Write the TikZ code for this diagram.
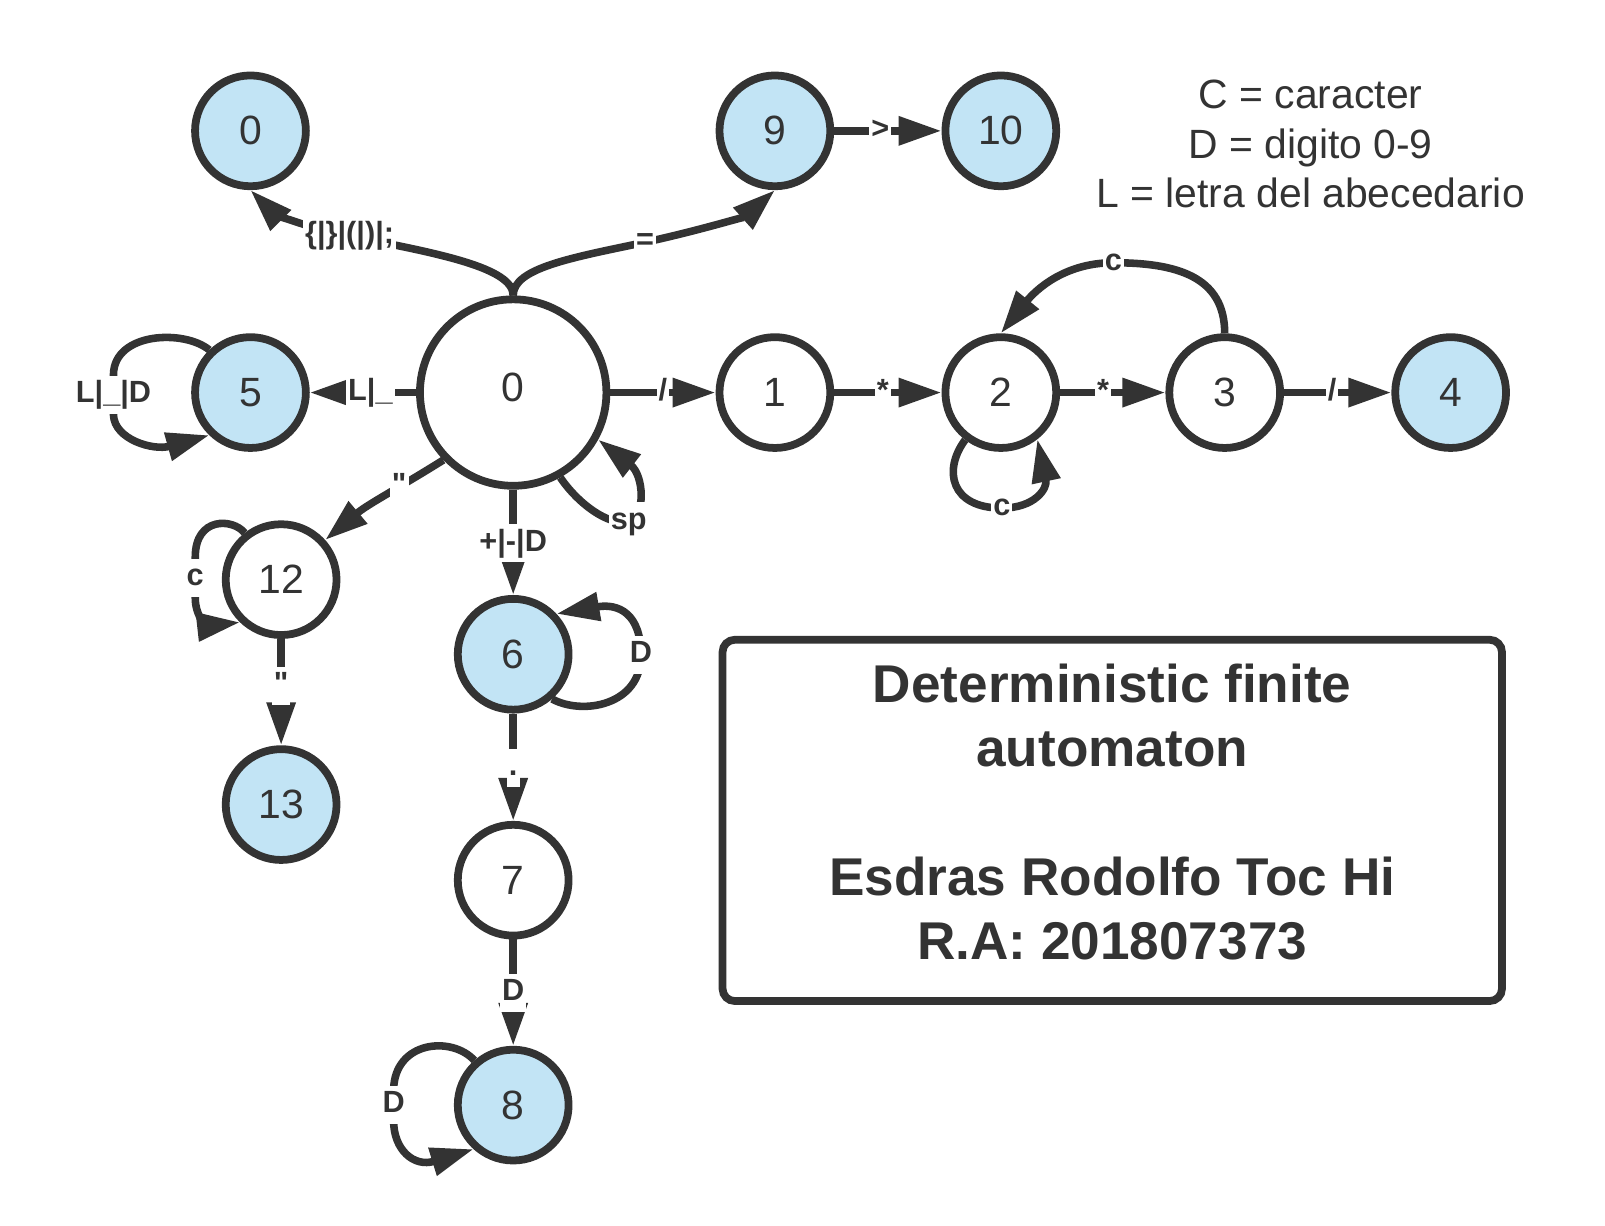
\documentclass[tikz,border=0pt]{standalone}
\usepackage{fontspec}
\setmainfont{Liberation Sans}
\font\qfont="Liberation Sans/B" at 15pt
\usetikzlibrary{arrows.meta}
\definecolor{dark}{HTML}{333333}
\definecolor{sfill}{HTML}{C2E4F5}
\newcommand{\dq}{{\qfont\char34}}
\begin{document}
\begin{tikzpicture}[x=0.5pt,y=0.5pt,
  state/.style={circle, draw=dark, line width=3.8pt, minimum size=54.2pt, inner sep=0pt, font=\fontsize{20}{24}\selectfont, text=dark},
  acc/.style={state, fill=sfill},
  big/.style={state, minimum size=91.2pt},
  conn/.style={draw=dark, line width=3.7pt, -{Triangle[length=21pt,width=13.5pt]}},
  lbl/.style={fill=white, text=dark, font=\fontsize{15}{18}\selectfont\bfseries, inner sep=1pt, text height=12pt, text depth=4.5pt},
]
\useasboundingbox (0,0) rectangle (1570,-1199);

% states
\node[big, text depth=5pt] (s0) at (502,-384) {0};
\node[acc] (n0t) at (245,-128) {0};
\node[acc] (n9) at (758,-128) {9};
\node[acc] (n10) at (979,-128) {10};
\node[acc] (n5) at (245,-384) {5};
\node[state] (n1) at (758,-384) {1};
\node[state] (n2) at (979,-384) {2};
\node[state] (n3) at (1198,-384) {3};
\node[acc] (n4) at (1419,-384) {4};
\node[state] (n12) at (275,-567) {12};
\node[acc] (n6) at (502,-640) {6};
\node[acc] (n13) at (275,-787) {13};
\node[state] (n7) at (502,-861) {7};
\node[acc] (n8) at (502,-1081) {8};

% curved edges to the top
\draw[conn] (s0.north) .. controls (502,-262) and (430,-248) .. (342,-231) node[lbl]{\{|\}|(|)|;} .. controls (295,-222) and (265,-206) .. (n0t.south);
\draw[conn] (s0.north) .. controls (502,-262) and (560,-252) .. (631,-237) node[lbl]{=} .. controls (690,-224) and (730,-211) .. (n9.south);

% straight edges
\draw[conn] (n9.east) -- node[lbl,pos=0.43]{>} (n10.west);
\draw[conn] (s0.west) -- node[lbl,pos=0.43]{L|\_} (n5.east);
\draw[conn] (s0.east) -- node[lbl,pos=0.5]{/} (n1.west);
\draw[conn] (n1.east) -- node[lbl,pos=0.453]{*} (n2.west);
\draw[conn] (n2.east) -- node[lbl,pos=0.408]{*} (n3.west);
\draw[conn] (n3.east) -- node[lbl,pos=0.448]{/} (n4.west);
\draw[conn] (s0.224) to[out=212,in=40] node[lbl,pos=0.35]{\dq} (n12.42);
\draw[conn] (s0.south) -- node[lbl,pos=0.51]{+|-|D} (n6.north);
\draw[conn] (n12.south) -- node[lbl,pos=0.44]{\dq} (n13.north);
\draw[conn] (n6.south) -- node[lbl,pos=0.51]{.} (n7.north);
\draw[conn] (n7.south) -- node[lbl,pos=0.505]{D} (n8.north);

% loops
\draw[conn] (s0.299) .. controls (565,-492) and (595,-515) .. (615,-510) node[lbl]{sp} .. controls (632,-505) and (630,-465) .. (s0.331);
\draw[conn] (n5.134) .. controls (180,-322) and (112,-325) .. (111,-366) -- node[lbl]{L|\_|D} (111,-406) .. controls (112,-430) and (150,-441) .. (n5.226);
\draw[conn] (n12.128) .. controls (228,-507) and (191,-505) .. (191,-545) -- node[lbl]{c} (191,-585) .. controls (191,-605) and (205,-612) .. (n12.226);
\draw[conn] (n2.233) .. controls (922,-460) and (930,-497) .. (980,-497) node[lbl]{c} .. controls (1012,-497) and (1025,-478) .. (n2.308);
\draw[conn] (n3.north) .. controls (1198,-270) and (1150,-257) .. (1089,-257) node[lbl]{c} .. controls (1040,-257) and (1012,-285) .. (n2.north);
\draw[conn] (n6.311) .. controls (570,-700) and (627,-690) .. (627,-641) node[lbl]{D} .. controls (627,-600) and (605,-590) .. (n6.43);
\draw[conn] (n8.131) .. controls (442,-1013) and (386,-1018) .. (385,-1066) -- node[lbl]{D} (385,-1096) .. controls (385,-1125) and (405,-1142) .. (n8.228);

% legend
\node[font=\fontsize{20}{24.25}\selectfont, text=dark, align=center] (legend) at (1282,-141) {C = caracter\\D = digito 0-9\\L = letra del abecedario};

% title box
\node[draw=dark, line width=3.8pt, rounded corners=6pt, minimum width=381.2pt, minimum height=176.7pt, inner sep=0pt] (box) at (1088,-802.5) {};
\node[font=\fontsize{26}{31.5}\selectfont\bfseries, text=dark, align=center] (title) at (1088,-794.5) {Deterministic finite\\automaton\\[31.5pt]Esdras Rodolfo Toc Hi\\R.A: 201807373};
\end{tikzpicture}
\end{document}
